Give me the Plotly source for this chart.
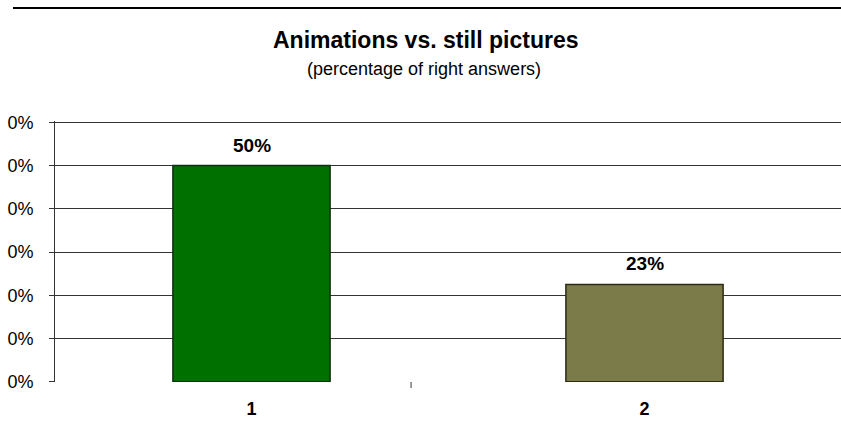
import plotly.graph_objects as go

# Categories and values (share of right answers)
categories = [1, 2]
category_labels = ["1", "2"]
values = [0.50, 0.225]
value_labels = ["50%", "23%"]
bar_colors = ["#007000", "#7B7B4A"]
bar_outlines = ["#0f300f", "#2b2b14"]

# Y axis ticks (the source chart shows every tick as "0%")
y_ticks = [0, 0.1, 0.2, 0.3, 0.4, 0.5, 0.6]
y_ticktext = ["0%"] * len(y_ticks)

font = "Liberation Sans, Arial, sans-serif"
T = 121
H = 431 - T - 49  # plot area height in px

fig = go.Figure()
fig.add_trace(go.Bar(
    x=categories, y=values,
    width=0.4,
    marker=dict(color=bar_colors, line=dict(color=bar_outlines, width=1.5)),
    hoverinfo="skip",
))

# value labels above bars
for x, v, lab in zip(categories, values, value_labels):
    fig.add_annotation(x=x, y=v, text="<b>%s</b>" % lab, showarrow=False,
                       yanchor="bottom", yshift=8,
                       font=dict(family=font, size=19, color="black"))

fig.update_layout(
    width=841, height=431,
    margin=dict(l=55, r=0, t=T, b=49),
    paper_bgcolor="white", plot_bgcolor="white",
    showlegend=False,
    font=dict(family=font, size=14, color="black"),
)

# title + subtitle
fig.add_annotation(text="<b>Animations vs. still pictures</b>", showarrow=False,
                   xref="paper", yref="paper", x=(425 - 55) / 786, y=1 + (T - 40) / H,
                   xanchor="center", yanchor="middle",
                   font=dict(family=font, size=23, color="black"))
fig.add_annotation(text="(percentage of right answers)", showarrow=False,
                   xref="paper", yref="paper", x=(424 - 55) / 786, y=1 + (T - 69) / H,
                   xanchor="center", yanchor="middle",
                   font=dict(family=font, size=18, color="black"))

# top rule line
fig.add_shape(type="line", xref="paper", yref="paper",
              x0=(13 - 55) / 786, x1=1.0, y0=1 + (T - 8) / H, y1=1 + (T - 8) / H,
              line=dict(color="black", width=2))

# category divider tick below the axis
fig.add_shape(type="line", xref="x", yref="paper",
              x0=1.406, x1=1.406, y0=0, y1=-6 / H,
              line=dict(color="#333333", width=1))

fig.update_xaxes(
    range=[0.5, 2.5], tickvals=categories, ticktext=["<b>%s</b>" % c for c in category_labels],
    showgrid=False, zeroline=False, showline=False, ticks="",
    ticklabelstandoff=14,
    tickfont=dict(family=font, size=18, color="black"),
)
fig.update_yaxes(
    range=[-0.0005, 0.603], tickvals=y_ticks, ticktext=y_ticktext,
    showgrid=True, gridcolor="#333333", gridwidth=1,
    zeroline=False, showline=True, linecolor="#333333", linewidth=1,
    ticks="outside", ticklen=5, tickcolor="#333333",
    ticklabelstandoff=12,
    tickfont=dict(family=font, size=18, color="black"),
)

fig.write_html("out.html", config={"displayModeBar": False},
               post_script="document.body.style.margin='0';")
